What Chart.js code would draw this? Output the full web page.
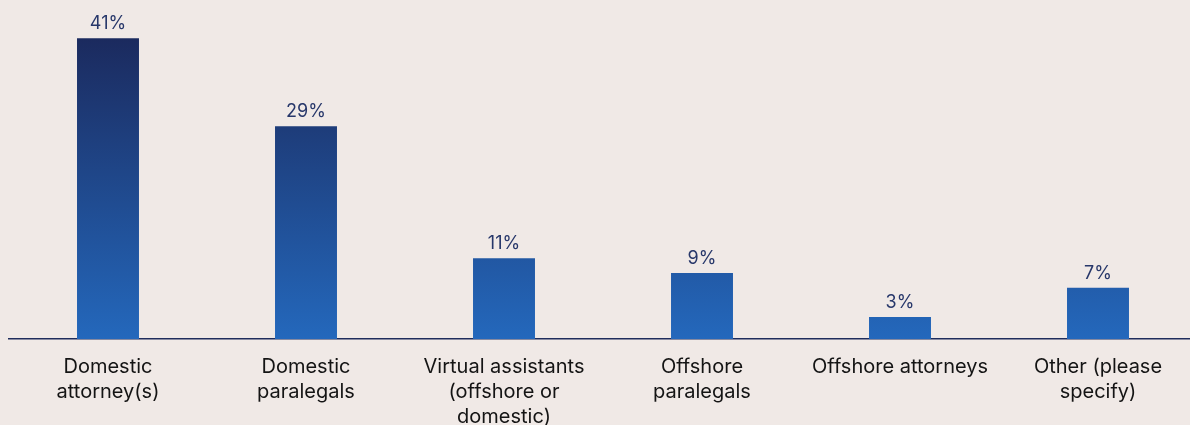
<!DOCTYPE html>
<html>
<head>
<meta charset="utf-8">
<script src="https://cdn.jsdelivr.net/npm/chart.js@4.4.1/dist/chart.umd.min.js"></script>
<style>
  html, body { margin: 0; padding: 0; background: #f0e9e6; overflow: hidden; }
  #wrap { width: 1200px; height: 425px; overflow: hidden; }
</style>
</head>
<body>
<div id="wrap"><canvas id="staffChart" width="1200" height="444"></canvas></div>
<script>
// survey categories (multi-line labels) and share of respondents
const categories = [
  ["Domestic", "attorney(s)"],
  ["Domestic", "paralegals"],
  ["Virtual assistants", "(offshore or", "domestic)"],
  ["Offshore", "paralegals"],
  ["Offshore attorneys"],
  ["Other (please", "specify)"]
];
const shares = [41, 29, 11, 9, 3, 7];

const FONT = "Inter, 'Noto Sans', sans-serif";

/* value labels above each bar */
const valueLabels = {
  id: "valueLabels",
  afterDatasetsDraw(chart) {
    const ctx = chart.ctx;
    const meta = chart.getDatasetMeta(0);
    ctx.save();
    ctx.font = "18px " + FONT;
    ctx.fillStyle = "#27376a";
    ctx.textAlign = "center";
    ctx.textBaseline = "alphabetic";
    meta.data.forEach((bar, i) => {
      ctx.fillText(shares[i] + "%", bar.x, bar.y - 9);
    });
    ctx.restore();
  }
};

/* vertical gradient spanning the plot area */
function barGradient(context) {
  const area = context.chart.chartArea;
  if (!area) return "#2466b8";
  const g = context.chart.ctx.createLinearGradient(0, area.top + 38, 0, area.bottom);
  g.addColorStop(0, "#1b2a5e");
  g.addColorStop(1, "#2468bc");
  return g;
}

new Chart(document.getElementById("staffChart"), {
  type: "bar",
  data: {
    labels: categories,
    datasets: [{
      data: shares,
      backgroundColor: barGradient,
      borderWidth: 0,
      barPercentage: 0.313,
      categoryPercentage: 1
    }]
  },
  options: {
    responsive: false,
    animation: false,
    layout: { padding: { left: 9, right: 3, top: 0, bottom: 0 } },
    plugins: { legend: { display: false }, tooltip: { enabled: false } },
    scales: {
      y: { display: false, min: 0, max: 46.2 },
      x: {
        grid: { display: false, drawTicks: false },
        border: { display: true, color: "#1f2d5c", width: 1.5 },
        ticks: {
          color: "#141414",
          padding: 15,
          maxRotation: 0,
          autoSkip: false,
          font: { family: FONT, size: 20, lineHeight: 1.25 }
        }
      }
    }
  },
  plugins: [valueLabels]
});
</script>
</body>
</html>
